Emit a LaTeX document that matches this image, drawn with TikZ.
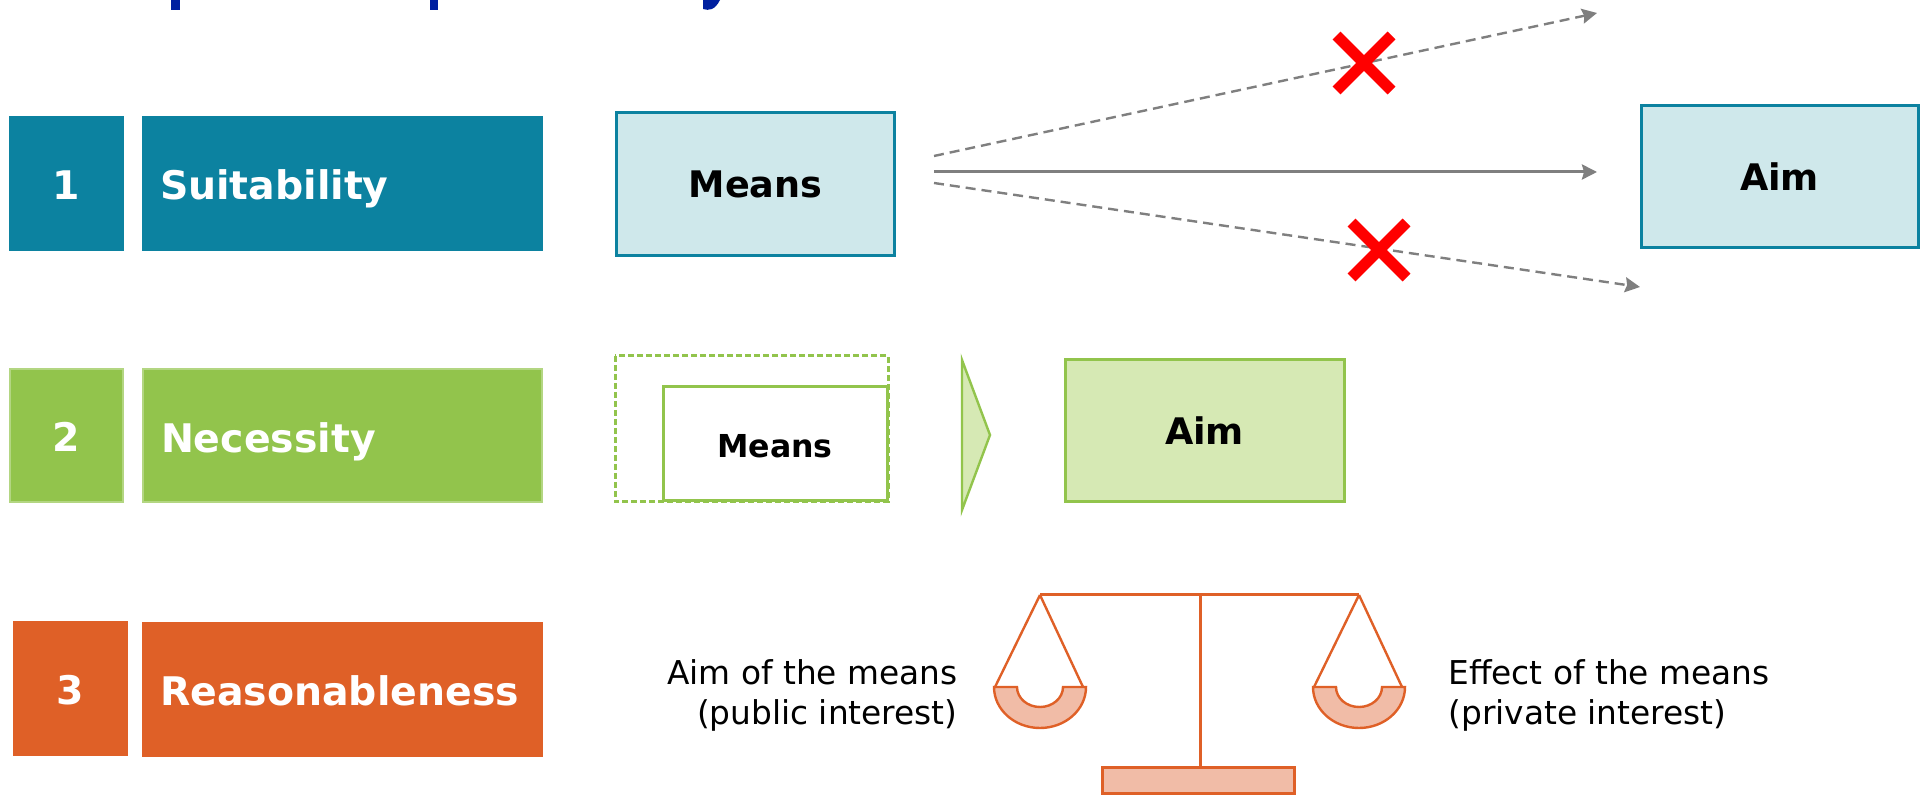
\documentclass[tikz,border=0pt]{standalone}
\usepackage{fontspec}
\setmainfont{DejaVu Sans}
\usetikzlibrary{shapes.misc,arrows.meta}
\definecolor{tealc}{HTML}{0C82A0}
\definecolor{teall}{HTML}{CFE8EB}
\definecolor{greenc}{HTML}{92C44C}
\definecolor{greenl}{HTML}{D6E9B4}
\definecolor{orangec}{HTML}{DF6027}
\definecolor{orangel}{HTML}{F1BCA7}
\definecolor{titleblue}{HTML}{0020A0}
\definecolor{arrowgray}{HTML}{7F7F7F}
\tikzset{
  numbox/.style={fill=#1,text=white,font=\bfseries\fontsize{19.7}{22}\selectfont,minimum width=57.5pt,minimum height=67.5pt,inner sep=0pt,text height=16pt,text depth=0pt},
  labbox/.style={fill=#1,text=white,font=\bfseries\fontsize{19.7}{22}\selectfont,minimum height=67.5pt,inner ysep=0pt,text width=182.5pt,inner xsep=9pt,align=left,text height=16.5pt,text depth=0pt},
  termbox/.style={draw=#1,line width=1.5pt,font=\bfseries\fontsize{18.3}{20}\selectfont,inner sep=0pt},
  kreuz/.style={cross out,draw=red,line width=5.5pt,minimum size=22pt,inner sep=0pt},
  pfeil/.style={-{Stealth[length=7.5pt,width=7.5pt,inset=1pt]},draw=arrowgray,line width=1.2pt},
  schale/.style={draw=orangec,line width=1.2pt,fill=orangel},
  seil/.style={draw=orangec,line width=1.2pt},
  balken/.style={draw=orangec,line width=1.5pt}
}
\begin{document}
\begin{tikzpicture}[>=stealth,x=.5pt,y=-.5pt]
    \useasboundingbox (0,0) rectangle (1922,795);
    % title remains
    \fill[titleblue] (171,0) rectangle (180,10);
    \fill[titleblue] (430,0) rectangle (438,10);
    \fill[titleblue] (703,0) -- (703,9) .. controls (709,11) and (715,10) .. (720,0) -- cycle;
    % row 1
    \node[numbox=tealc] (num1) at (66.5,183.5) {1};
    \node[labbox=tealc] (lab1) at (342.5,183.5) {Suitability};
    \node[termbox=tealc,fill=teall,minimum width=139pt,minimum height=71.5pt] (means1) at (755.5,184) {Means};
    \node[termbox=tealc,fill=teall,minimum width=138.5pt,minimum height=71pt] (aim1) at (1779.5,176.5) {Aim};
    \coordinate (s1) at (934,156);
    \coordinate (s2) at (934,172);
    \coordinate (s3) at (934,183);
    \coordinate (e1) at (1597,13);
    \coordinate (e2) at (1597,172);
    \coordinate (e3) at (1640,287);
    \draw[pfeil,dash pattern=on 5pt off 3pt] (s1) -- (e1);
    \draw[pfeil,line width=1.5pt] (s2) -- (e2);
    \draw[pfeil,dash pattern=on 5pt off 3pt] (s3) -- (e3);
    \node[kreuz] (x1) at (1364,63) {};
    \node[kreuz] (x2) at (1379,250) {};
    % row 2
    \node[numbox=greenc,draw=greenc!70!white,line width=1pt,minimum width=56.5pt,minimum height=66.5pt] (num2) at (66.5,436) {2};
    \node[labbox=greenc,draw=greenc!70!white,line width=1pt,text width=181.5pt,minimum height=66.5pt] (lab2) at (342.5,436) {Necessity};
    \draw[greenc,line width=1.5pt,dash pattern=on 3pt off 1.5pt] (615,356) rectangle (888,502);
    \node[termbox=greenc,minimum width=112pt,minimum height=57pt,font=\bfseries\fontsize{15.8}{18}\selectfont,text height=13.5pt,text depth=0pt] (means2) at (775,444) {Means};
    \fill[greenl,draw=greenc,line width=1.2pt] (962,360) -- (990,435) -- (962,510) -- cycle;
    \node[termbox=greenc,fill=greenl,minimum width=139.5pt,minimum height=71pt] (aim2) at (1204.5,431) {Aim};
    % row 3
    \node[numbox=orangec] (num3) at (70,689) {3};
    \node[labbox=orangec] (lab3) at (342.5,689.5) {Reasonableness};
    \node[font=\fontsize{16.4}{20}\selectfont,align=right,anchor=east,inner sep=0pt] (txta) at (958,695) {Aim of the means\\(public interest)};
    \node[font=\fontsize{16.4}{20}\selectfont,align=left,anchor=west,inner sep=0pt] (txtb) at (1448,695) {Effect of the means\\(private interest)};
    \draw[balken] (1040,595) -- (1359,595);
    \draw[balken] (1200,595) -- (1200,767);
    \node[schale,draw,line width=1.5pt,minimum width=96pt,minimum height=13pt,inner sep=0pt] (fuss) at (1198,780.5) {};
    \foreach \x in {1040,1359}{
        \draw[seil] (\x,595) -- ({\x-45},687);
        \draw[seil] (\x,595) -- ({\x+43},687);
        \draw[schale] ({\x-46},687) -- ({\x-23},687) arc[start angle=180,end angle=360,x radius=23,y radius=-20] -- ({\x+46},687) arc[start angle=360,end angle=180,x radius=46,y radius=-41] -- cycle;
    }
\end{tikzpicture}
\end{document}
